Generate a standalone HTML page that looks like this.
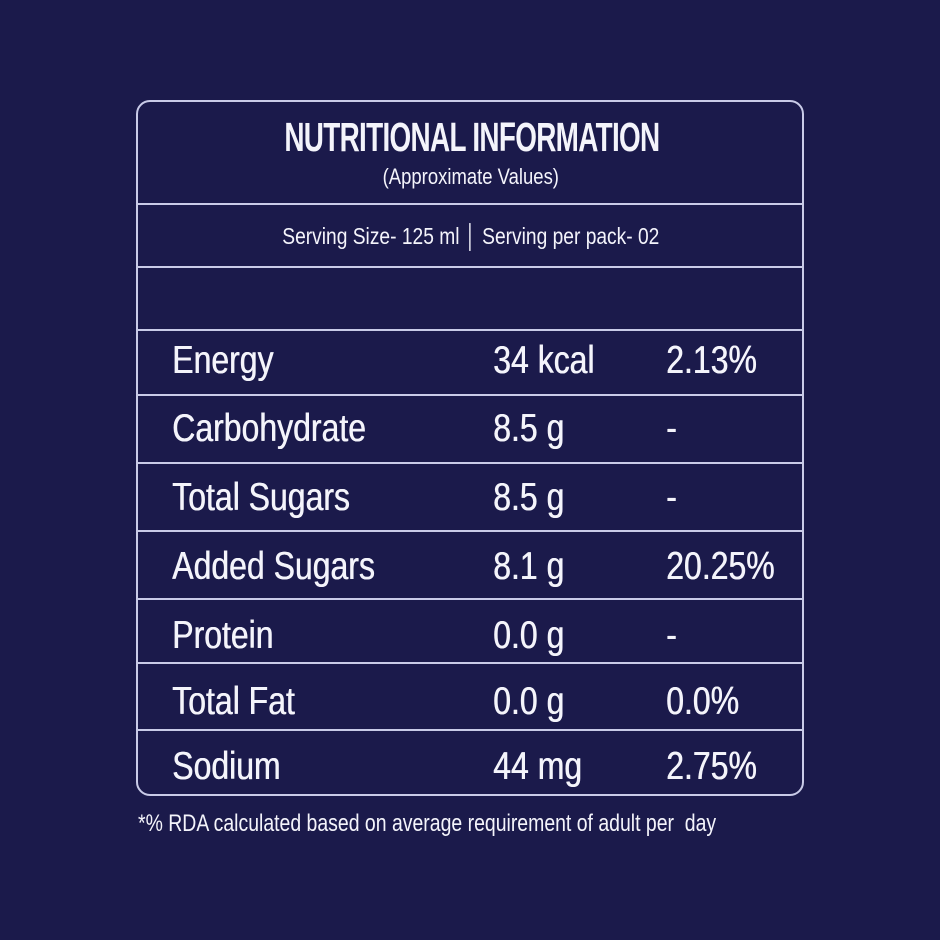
<!DOCTYPE html>
<html><head><style>
body{margin:0;background:#1b1a4b;width:940px;height:940px;position:relative;overflow:hidden;font-family:"Liberation Sans Narrow","Liberation Sans",sans-serif;color:#f4f4fb}
.box{position:absolute;left:136px;top:100px;width:664px;height:692px;border:2px solid #c9cbe8;border-radius:14px}
.hl{position:absolute;left:136px;width:668px;height:2px;background:#c9cbe8}
.t{position:absolute;white-space:nowrap;transform-origin:0 0}
.r{font-size:39px;transform:scaleX(0.82);text-shadow:0.6px 0 0 #f4f4fb}
</style></head><body>
<div class="box"></div>
<div class="t" style="left:0;width:940px;text-align:center;top:114px;font-size:41px;font-weight:bold;letter-spacing:-1px;transform:scaleX(0.68);transform-origin:476px 0">NUTRITIONAL INFORMATION</div>
<div class="t" style="left:0;width:940px;text-align:center;top:164px;font-size:22px;transform:scaleX(0.84);transform-origin:475px 0">(Approximate Values)</div>
<div class="hl" style="top:203px"></div>
<div class="t" style="left:0;width:940px;text-align:center;top:223px;font-size:23px;transform:scaleX(0.835);transform-origin:475px 0">Serving Size- 125 ml │ Serving per pack- 02</div>
<div class="hl" style="top:266px"></div>
<div class="hl" style="top:329px"></div>
<div class="hl" style="top:394px"></div>
<div class="hl" style="top:462px"></div>
<div class="hl" style="top:530px"></div>
<div class="hl" style="top:598px"></div>
<div class="hl" style="top:662px"></div>
<div class="hl" style="top:729px"></div>

<div class="t r" style="left:172px;top:339px">Energy</div>
<div class="t r" style="left:493px;top:339px">34 kcal</div>
<div class="t r" style="left:666px;top:339px">2.13%</div>

<div class="t r" style="left:172px;top:407px">Carbohydrate</div>
<div class="t r" style="left:493px;top:407px">8.5 g</div>
<div class="t r" style="left:666px;top:407px">-</div>

<div class="t r" style="left:172px;top:476px">Total Sugars</div>
<div class="t r" style="left:493px;top:476px">8.5 g</div>
<div class="t r" style="left:666px;top:476px">-</div>

<div class="t r" style="left:172px;top:545px">Added Sugars</div>
<div class="t r" style="left:493px;top:545px">8.1 g</div>
<div class="t r" style="left:666px;top:545px">20.25%</div>

<div class="t r" style="left:172px;top:614px">Protein</div>
<div class="t r" style="left:493px;top:614px">0.0 g</div>
<div class="t r" style="left:666px;top:614px">-</div>

<div class="t r" style="left:172px;top:680px">Total Fat</div>
<div class="t r" style="left:493px;top:680px">0.0 g</div>
<div class="t r" style="left:666px;top:680px">0.0%</div>

<div class="t r" style="left:172px;top:745px">Sodium</div>
<div class="t r" style="left:493px;top:745px">44 mg</div>
<div class="t r" style="left:666px;top:745px">2.75%</div>

<div class="t" style="left:138px;top:810px;font-size:24px;transform:scaleX(0.81)">*% RDA calculated based on average requirement of adult per&nbsp; day</div>
</body></html>
